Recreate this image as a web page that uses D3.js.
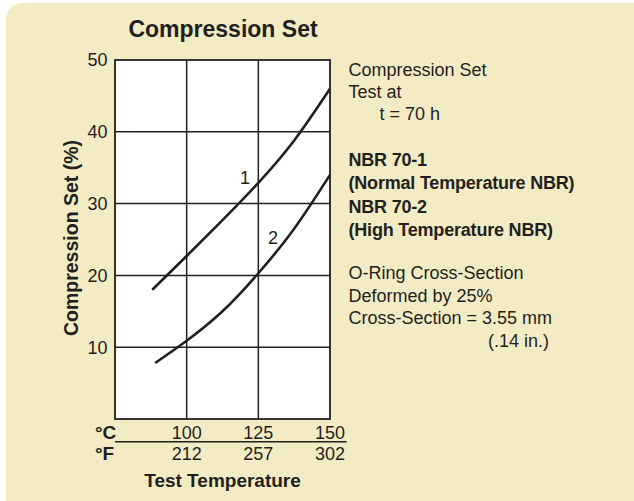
<!DOCTYPE html>
<html lang="en">
<head>
	<meta charset="utf-8">
	<title>Compression Set</title>
	<style>
		html, body { margin: 0; padding: 0; background: #fff; }
		svg { display: block; font-family: "Liberation Sans", Arial, sans-serif; }
	</style>
</head>
<body>
	<script src="https://cdn.jsdelivr.net/npm/d3@7"></script>
	<script>
		// values
		const celsiusTicks = [100, 125, 150];
		const fahrenheitLabels = ["212", "257", "302"];
		const yTicks = [10, 20, 30, 40, 50];
		const nbr70_1_temp = [88, 100, 112.5, 125, 137.5, 150];
		const nbr70_1_set = [18, 22.7, 27.7, 32.9, 38.8, 46];
		const nbr70_2_temp = [89, 100, 112.5, 125, 137.5, 150];
		const nbr70_2_set = [7.8, 10.9, 15, 20.3, 26.5, 34];
		const notes = ["Compression Set", "Test at", "t = 70 h"];
		const materials = ["NBR 70-1", "(Normal Temperature NBR)", "NBR 70-2", "(High Temperature NBR)"];
		const ringNotes = ["O-Ring Cross-Section", "Deformed by 25%", "Cross-Section = 3.55 mm", "(.14 in.)"];

		const width = 634, height = 501;
		const ink = "#231f20";

		const svg = d3.select("body").append("svg")
			.attr("width", width)
			.attr("height", height);

		// cream panel with rounded top-left corner
		svg.append("rect")
			.attr("x", 6).attr("y", 3)
			.attr("width", width + 20).attr("height", height + 20)
			.attr("rx", 16)
			.attr("fill", "#f3ebc4");

		const x = d3.scaleLinear().domain([75, 150]).range([115, 330]);
		const y = d3.scaleLinear().domain([0, 50]).range([419, 60]);

		svg.append("rect")
			.attr("x", x(75)).attr("y", y(50))
			.attr("width", x(150) - x(75)).attr("height", y(0) - y(50))
			.attr("fill", "#fff");

		// grid
		svg.append("g")
			.attr("stroke", ink).attr("stroke-width", 1.5)
			.selectAll("line")
			.data(yTicks.filter(d => d < 50))
			.join("line")
			.attr("x1", x(75)).attr("x2", x(150))
			.attr("y1", d => y(d)).attr("y2", d => y(d));

		svg.append("g")
			.attr("stroke", ink).attr("stroke-width", 1.5)
			.selectAll("line")
			.data(celsiusTicks.filter(d => d < 150))
			.join("line")
			.attr("x1", d => x(d)).attr("x2", d => x(d))
			.attr("y1", y(0)).attr("y2", y(50));

		svg.append("rect")
			.attr("x", x(75)).attr("y", y(50))
			.attr("width", x(150) - x(75)).attr("height", y(0) - y(50))
			.attr("fill", "none").attr("stroke", ink).attr("stroke-width", 1.8);

		// curves
		const line = d3.line()
			.x(d => x(d[0])).y(d => y(d[1]))
			.curve(d3.curveNatural);

		const series = [
			d3.zip(nbr70_1_temp, nbr70_1_set),
			d3.zip(nbr70_2_temp, nbr70_2_set)
		];

		svg.append("g")
			.attr("fill", "none").attr("stroke", ink).attr("stroke-width", 2.6)
			.selectAll("path")
			.data(series)
			.join("path")
			.attr("d", line);

		svg.append("text")
			.attr("x", 245).attr("y", 184)
			.attr("text-anchor", "middle").attr("font-size", 18).attr("fill", ink)
			.text("1");
		svg.append("text")
			.attr("x", 273).attr("y", 244)
			.attr("text-anchor", "middle").attr("font-size", 18).attr("fill", ink)
			.text("2");

		// y tick labels
		svg.append("g")
			.selectAll("text")
			.data(yTicks)
			.join("text")
			.attr("x", 107.5).attr("y", d => y(d))
			.attr("dy", "0.35em")
			.attr("text-anchor", "end").attr("font-size", 18).attr("fill", ink)
			.text(d => d);

		svg.append("text")
			.attr("transform", `translate(77.5,${238}) rotate(-90)`)
			.attr("text-anchor", "middle").attr("font-size", 19.5).attr("font-weight", "bold")
			.attr("fill", ink)
			.text("Compression Set (%)");

		// x tick labels, two unit rows
		svg.append("g")
			.selectAll("text")
			.data(celsiusTicks)
			.join("text")
			.attr("x", d => x(d)).attr("y", 438.5)
			.attr("text-anchor", "middle").attr("font-size", 18).attr("fill", ink)
			.text(d => d);

		svg.append("g")
			.selectAll("text")
			.data(celsiusTicks)
			.join("text")
			.attr("x", d => x(d)).attr("y", 460)
			.attr("text-anchor", "middle").attr("font-size", 18).attr("fill", ink)
			.text((d, i) => fahrenheitLabels[i]);

		svg.append("line")
			.attr("x1", x(75)).attr("x2", 346.5)
			.attr("y1", 441.7).attr("y2", 441.7)
			.attr("stroke", ink).attr("stroke-width", 1.5);

		svg.append("text")
			.attr("x", 95).attr("y", 438.5)
			.attr("font-size", 19).attr("font-weight", "bold").attr("fill", ink)
			.text("°C");
		svg.append("text")
			.attr("x", 95).attr("y", 460)
			.attr("font-size", 19).attr("font-weight", "bold").attr("fill", ink)
			.text("°F");

		svg.append("text")
			.attr("x", 222.5).attr("y", 486.5)
			.attr("text-anchor", "middle").attr("font-size", 19).attr("font-weight", "bold")
			.attr("fill", ink)
			.text("Test Temperature");

		// title
		svg.append("text")
			.attr("x", 223).attr("y", 36.5)
			.attr("text-anchor", "middle").attr("font-size", 23).attr("font-weight", "bold")
			.attr("fill", ink)
			.text("Compression Set");

		// notes on the right
		const noteX = 348.5;
		svg.append("g")
			.selectAll("text")
			.data(notes)
			.join("text")
			.attr("x", (d, i) => i === 2 ? 379.5 : noteX)
			.attr("y", (d, i) => 75.7 + i * 22.3)
			.attr("font-size", 18).attr("fill", ink)
			.text(d => d);

		svg.append("g")
			.selectAll("text")
			.data(materials)
			.join("text")
			.attr("x", noteX)
			.attr("y", (d, i) => 166 + i * 23.3)
			.attr("font-size", 18).attr("font-weight", "bold").attr("fill", ink)
			.attr("letter-spacing", -0.2)
			.text(d => d);

		svg.append("g")
			.selectAll("text")
			.data(ringNotes)
			.join("text")
			.attr("x", (d, i) => i === 3 ? 488 : noteX)
			.attr("y", (d, i) => 279.3 + i * 22.5)
			.attr("font-size", 18).attr("fill", ink)
			.text(d => d);
	</script>
</body>
</html>
